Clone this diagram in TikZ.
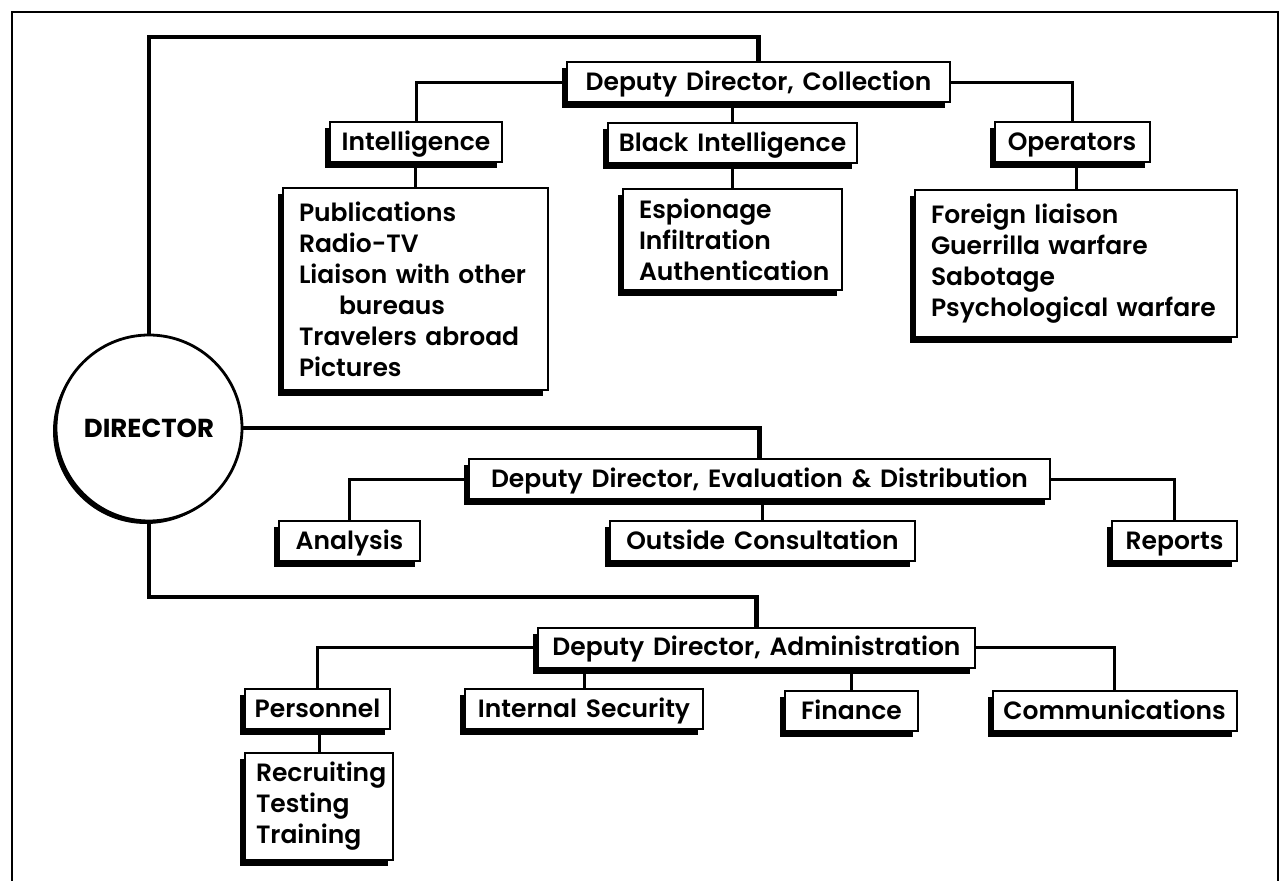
\documentclass[tikz,border=0pt]{standalone}
\usepackage{fontspec}
\setmainfont{Poppins}[UprightFont=* SemiBold, BoldFont=* Bold, WordSpace=1.5]
\usetikzlibrary{shadows}
\tikzset{
  plain/.style  = {draw, line width=1pt, fill=white, inner sep=2pt, minimum height=20pt,
                   font=\fontsize{12.5}{15}\selectfont},
  unit/.style   = {plain, text height=8.7pt, text depth=0.5pt,
                   drop shadow={shadow xshift=-2.5pt, shadow yshift=-3pt,
                   fill=black, opacity=1}},
  duties/.style = {plain, align=left, inner xsep=8pt,
                   font=\fontsize{12.5}{15.5}\selectfont,    % task lists
                   drop shadow={shadow xshift=-2.5pt, shadow yshift=-3pt,
                   fill=black, opacity=1}},
  chief/.style  = {plain, circle, line width=1.4pt, minimum size=93pt,
                   font=\bfseries\fontsize{13}{15}\selectfont,
                   drop shadow={shadow xshift=-1.5pt, shadow yshift=-1.5pt, fill=black, opacity=1}},
  link/.style   = {line width=1.5pt},
  mainlink/.style = {line width=2.4pt},                      % from the director
}

\begin{document}
\begin{tikzpicture}[x=0.5pt, y=-0.5pt]
  \useasboundingbox (0,0) rectangle (1283,881);
  \draw[line width=1.2pt] (12,881) -- (12,12) -- (1278,12) -- (1278,881);

  \node[chief] at (149, 428)   (dir)     {DIRECTOR};

  \node[unit, minimum width=191.5pt] at (758.5, 82.5) (ddcol)  {Deputy Director, Collection};
  \node[unit, minimum width=86pt]    at (416, 142)    (intel)  {Intelligence};
  \node[unit, minimum width=124.5pt] at (732.5, 143)  (black)  {Black Intelligence};
  \node[unit, minimum width=77.5pt]  at (1072, 142)   (oper)   {Operators};

  \node[duties, text width=116.5pt, minimum height=101pt] at (415.5, 289) (intelsub)
    {Publications\\Radio-TV\\Liaison with other\\\hspace*{20pt}bureaus\\Travelers abroad\\Pictures};
  \node[duties, text width=93.5pt, minimum height=50.5pt] at (732.5, 239.5) (blacksub)
    {Espionage\\Infiltration\\Authentication};
  \node[duties, text width=145pt, minimum height=73.5pt] at (1076, 263.5) (opersub)
    {Foreign liaison\\Guerrilla warfare\\Sabotage\\Psychological warfare};

  \node[unit, minimum width=290.5pt] at (759.5, 479)  (ddeval)   {Deputy Director, Evaluation \& Distribution};
  \node[unit, minimum width=70.5pt]  at (349.5, 541)  (analysis) {Analysis};
  \node[unit, minimum width=152.5pt] at (762.5, 541)  (outside)  {Outside Consultation};
  \node[unit, minimum width=62.5pt]  at (1174.5, 541) (reports)  {Reports};

  \node[unit, minimum width=218.5pt] at (756.5, 647.5) (ddadm)   {Deputy Director, Administration};
  \node[unit, minimum width=72.5pt]  at (317.5, 709)   (pers)    {Personnel};
  \node[unit, minimum width=119pt]   at (584, 709)     (intsec)  {Internal Security};
  \node[unit, minimum width=66.5pt]  at (851.5, 711)   (finance) {Finance};
  \node[unit, minimum width=122pt]   at (1114.5, 711)  (comms)   {Communications};

  \node[duties, inner xsep=5.5pt, text width=63pt, minimum height=53.5pt] at (319, 806.5) (perssub)
    {Recruiting\\Testing\\Training};

  \coordinate (topbend) at (0, 37);
  \coordinate (lowbend) at (0, 597);
  \draw[mainlink] (dir.north) -- (dir.north |- topbend) -| (ddcol.north);
  \draw[mainlink] (dir.east) -| (ddeval.north);
  \draw[mainlink] (dir.south) -- (dir.south |- lowbend) -| (ddadm.north);

  \draw[link] (ddcol.west) -| (intel.north);
  \draw[link] (black.north) -- (black.north |- ddcol.south);
  \draw[link] (ddcol.east) -| (oper.north);
  \draw[link] (intelsub.north) -- (intelsub.north |- intel.south);
  \draw[link] (blacksub.north) -- (blacksub.north |- black.south);
  \draw[link] (opersub.north) -- (opersub.north |- oper.south);

  \draw[link] (ddeval.west) -| (analysis.north);
  \draw[link] (outside.north) -- (outside.north |- ddeval.south);
  \draw[link] (ddeval.east) -| (reports.north);

  \draw[link] (ddadm.west) -| (pers.north);
  \draw[link] (intsec.north) -- (intsec.north |- ddadm.south);
  \draw[link] (finance.north) -- (finance.north |- ddadm.south);
  \draw[link] (ddadm.east) -| (comms.north);
  \draw[link] (perssub.north) -- (perssub.north |- pers.south);
\end{tikzpicture}
\end{document}
